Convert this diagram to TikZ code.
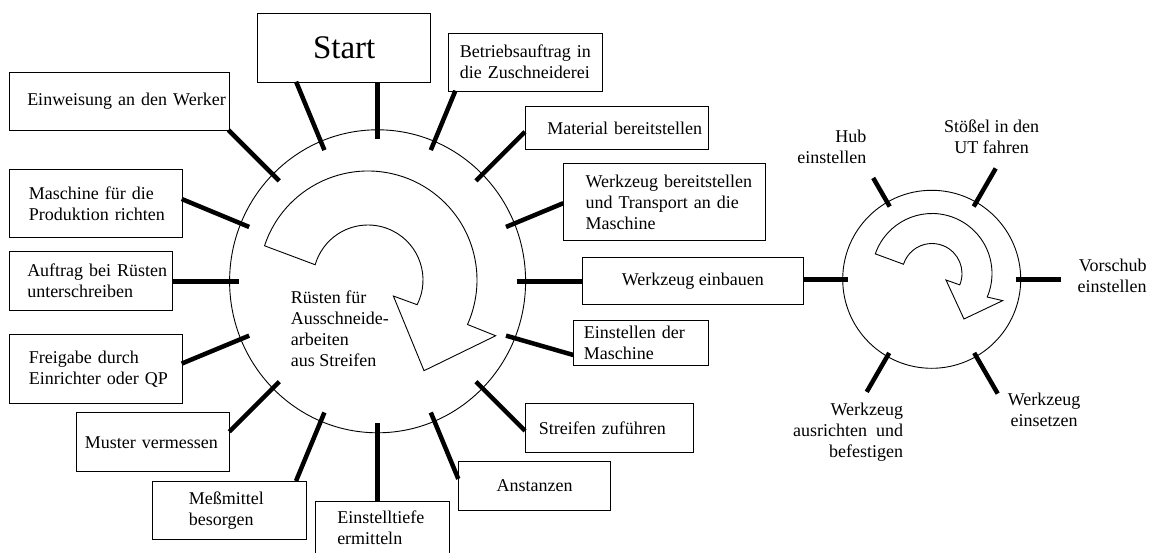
\documentclass[tikz,border=0pt]{standalone}
\usepackage{fontspec}
\setmainfont{Liberation Serif}
\usetikzlibrary{calc}
\tikzset{
  box/.style={draw, line width=1.1pt, rectangle, inner sep=0pt, anchor=north west, align=left, font=\fontsize{18}{21}\selectfont},
  spoke/.style={line width=4.5pt},
  ring/.style={draw, line width=0.9pt},
  lbl/.style={font=\fontsize{18}{21}\selectfont, inner sep=0pt},
  turn/.style={draw, line width=0.9pt, line join=miter},
}
\begin{document}
\begin{tikzpicture}[x=1pt,y=-1pt]
\useasboundingbox (0,0) rectangle (1155,553);
% boxes
\node[box, align=center, minimum width=172.7pt, minimum height=68.4pt, font=\fontsize{33}{38}\selectfont] (start) at (257.3,13.3) {Start};
\node[box, minimum width=153.7pt, minimum height=58pt, text width=131.7pt] (betr) at (448.3,32.7) {\mbox{Betriebsauftrag in}\\\mbox{die Zuschneiderei}};
\node[box, minimum width=182.7pt, minimum height=43.6pt, text width=139.3pt] (mat) at (525,105.7) {\mbox{Material bereitstellen}};
\node[box, minimum width=201.7pt, minimum height=76.7pt, text width=158.3pt] (wzb) at (563.3,163.3) {\mbox{Werkzeug bereitstellen}\\\mbox{und Transport an die}\\Maschine};
\node[box, align=center, minimum width=221pt, minimum height=47.6pt] (einb) at (581.7,256.7) {Werkzeug einbauen};
\node[box, minimum width=134.4pt, minimum height=45pt, text width=114.4pt] (einst) at (573.3,320) {\mbox{Einstellen der}\\Maschine};
\node[box, minimum width=168pt, minimum height=48.4pt, text width=141.4pt] (streif) at (525,403.3) {\mbox{Streifen zuführen}};
\node[box, align=center, minimum width=151.7pt, minimum height=49pt] (anst) at (458.3,461) {Anstanzen};
\node[box, minimum width=134pt, minimum height=53.6pt, text width=90.6pt] (tiefe) at (315,500.7) {\mbox{Einstelltiefe}\\ermitteln};
\node[box, minimum width=153.7pt, minimum height=58.3pt, text width=81.7pt] (mess) at (152.3,481) {\mbox{Meßmittel}\\besorgen};
\node[box, minimum width=153.3pt, minimum height=58.7pt, text width=136.7pt] (must) at (76,412.3) {\mbox{Muster vermessen}};
\node[box, minimum width=172.7pt, minimum height=68.4pt, text width=134.1pt] (frei) at (9,334.3) {\mbox{Freigabe durch}\\\mbox{Einrichter oder QP}};
\node[box, minimum width=163.3pt, minimum height=59.3pt, text width=127.9pt] (auft) at (9,250.7) {\mbox{Auftrag bei Rüsten}\\\mbox{unterschreiben}};
\node[box, minimum width=172.7pt, minimum height=68.3pt, text width=134.1pt] (masch) at (9,169) {\mbox{Maschine für die}\\\mbox{Produktion richten}};
\node[box, minimum width=220.3pt, minimum height=58.3pt, text width=184.9pt] (einw) at (9,71.7) {\mbox{Einweisung an den Werker}};

% big circle
\coordinate (bc) at (377.6,281.3);
\draw[ring] (bc) ellipse [x radius=148, y radius=151.5];
\node[lbl, align=left, anchor=west] (ruest) at (290.7,329) {Rüsten für\\Ausschneide-\\arbeiten\\aus Streifen};

% spoke ends
\foreach \a/\n in {270/1,247.5/2,292.5/3,315/4,337.5/5,0/6,22.5/7,45/8,67.5/9,90/10,112.5/11,135/12,157.5/13,180/14,202.5/15,225/16}
  \coordinate (i\n) at ($(bc)+(\a:139 and 142)$);
\coordinate (o2) at (296.1,81.7);
\coordinate (o3) at (455.4,90.7);
\coordinate (o4) at (525,131.8);
\coordinate (o5) at (563.3,203.2);
\coordinate (o7) at (573.3,355);
\coordinate (o8) at (525,430.8);
\coordinate (o9) at (458.3,478.9);
\coordinate (o11) at (296,481);
\coordinate (o12) at (229.3,431.7);
\coordinate (o13) at (181.7,363.6);
\coordinate (o15) at (181.7,199);
\coordinate (o16) at (228.4,130);

\draw[spoke] (i1) -- (i1 |- start.south);
\draw[spoke] (i2) -- (o2);
\draw[spoke] (i3) -- (o3);
\draw[spoke] (i4) -- (o4);
\draw[spoke] (i5) -- (o5);
\draw[spoke] (i6) -- (i6 -| einb.west);
\draw[spoke] (i7) -- (o7);
\draw[spoke] (i8) -- (o8);
\draw[spoke] (i9) -- (o9);
\draw[spoke] (i10) -- (i10 |- tiefe.north);
\draw[spoke] (i11) -- (o11);
\draw[spoke] (i12) -- (o12);
\draw[spoke] (i13) -- (o13);
\draw[spoke] (i14) -- (i14 -| auft.east);
\draw[spoke] (i15) -- (o15);
\draw[spoke] (i16) -- (o16);

% big turning arrow
\draw[turn, shift={(368,280)}] (198.3:109) arc[start angle=198.3, end angle=384.1, radius=109]
  -- (23.6:139.3) -- (58.3:106.6) -- (32.3:30) -- (26.7:55)
  arc[start angle=26.7, end angle=-163.9, radius=55] -- cycle;

% small circle
\coordinate (sc) at (931.7,279.3);
\draw[ring] (sc) circle [radius=89];
\coordinate (si) at ($(sc)+(180:84)$);
\draw[spoke] (einb.east |- si) -- (si);
\draw[spoke] ($(sc)+(240:84)$) coordinate (h1) -- ($(sc)+(240:117)$) coordinate (h2);
\draw[spoke] ($(sc)+(300:84)$) coordinate (s1) -- ($(sc)+(300:128)$) coordinate (s2);
\draw[spoke] ($(sc)+(0:84)$) coordinate (v1) -- ($(sc)+(0:129)$) coordinate (v2);
\draw[spoke] ($(sc)+(60:85)$) coordinate (e1) -- ($(sc)+(60:132)$) coordinate (e2);
\draw[spoke] ($(sc)+(120:85)$) coordinate (a1) -- ($(sc)+(120:130)$) coordinate (a2);

\draw[turn, shift={(932,273.5)}] (199.1:60) arc[start angle=199.1, end angle=383.1, radius=60]
  -- (21:75.7) -- (54.9:55.6) -- (24.9:15.4) -- (22.3:30)
  arc[start angle=22.3, end angle=-162, radius=30] -- cycle;

\node[lbl, align=right, anchor=east] (hub) at (866.5,146.5) {Hub\\einstellen};
\node[lbl, align=center] (stoe) at (991.5,136.9) {Stößel in den\\UT fahren};
\node[lbl, align=right, anchor=east] (vor) at (1146.7,275.5) {Vorschub\\einstellen};
\node[lbl, align=center] (wein) at (1044,410) {Werkzeug\\einsetzen};
\node[lbl, align=right, anchor=east] (waus) at (903.3,432.3) {Werkzeug\\ausrichten\ \ und\\befestigen};
\end{tikzpicture}
\end{document}
